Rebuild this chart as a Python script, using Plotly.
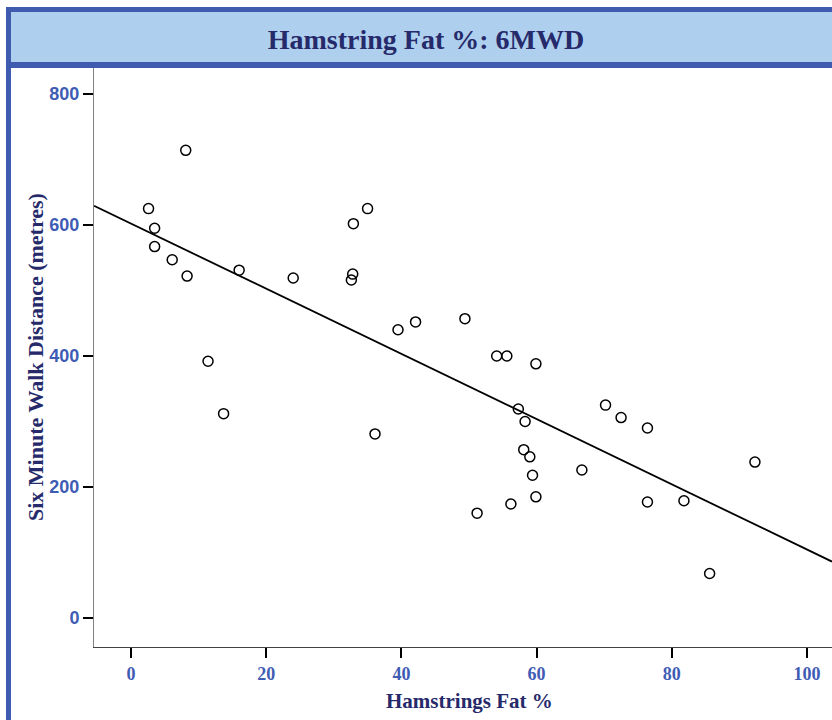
import numpy as np
import plotly.graph_objects as go

# Data
fat_pct = [8.1, 2.6, 3.5, 3.5, 6.1, 8.3, 16.0, 24.0, 11.4, 13.7,
           32.9, 35.0, 32.8, 32.6, 39.5, 42.1, 36.1,
           49.4, 54.1, 55.6, 59.9, 57.3, 58.3, 58.1, 59.0, 59.4, 59.9,
           56.2, 51.2, 66.7, 70.2, 72.5, 76.4, 76.4, 81.8, 92.3, 85.6]
walk_m = [714, 625, 595, 567, 547, 522, 531, 519, 392, 312,
          602, 625, 525, 516, 440, 452, 281,
          457, 400, 400, 388, 319, 300, 257, 246, 218, 185,
          174, 160, 226, 325, 306, 290, 177, 179, 238, 68]

x_ticks = [0, 20, 40, 60, 80, 100]
y_ticks = [0, 200, 400, 600, 800]
x_range = [-5.47, 103.7]
y_range = [-44.3, 839.7]

title_text = "Hamstring Fat %: 6MWD"
x_title = "Hamstrings Fat %"
y_title = "Six Minute Walk Distance (metres)"

W, H = 832, 720
ML, MR, MT, MB = 94, 0, 68, 73
PW, PH = W - ML - MR, H - MT - MB

def px(xp):
    return (xp - ML) / PW

def py(yp):
    return (H - MB - yp) / PH

slope, intercept = np.polyfit(fat_pct, walk_m, 1)
line_x = np.array(x_range)
line_y = intercept + slope * line_x

BORDER = "#3F5BB0"
FILL = "#AED0EE"
NAVY = "#262A6B"
TICKBLUE = "#3F5CB5"

fig = go.Figure()
fig.add_trace(go.Scatter(x=line_x, y=line_y, mode="lines",
                         line=dict(color="black", width=1.8),
                         hoverinfo="skip", showlegend=False))
fig.add_trace(go.Scatter(x=fat_pct, y=walk_m, mode="markers",
                         marker=dict(symbol="circle-open", size=10,
                                     color="black", line=dict(width=1.5)),
                         showlegend=False))

shapes = [
    dict(type="rect", xref="paper", yref="paper", x0=px(11), x1=px(W + 5),
         y0=py(62), y1=py(12), fillcolor=FILL, line=dict(width=0), layer="below"),
    dict(type="rect", xref="paper", yref="paper", x0=px(6), x1=px(W + 5),
         y0=py(12), y1=py(7), fillcolor=BORDER, line=dict(width=0)),
    dict(type="rect", xref="paper", yref="paper", x0=px(6), x1=px(W + 5),
         y0=py(68), y1=py(62), fillcolor=BORDER, line=dict(width=0)),
    dict(type="rect", xref="paper", yref="paper", x0=px(6), x1=px(11),
         y0=py(H + 5), y1=py(7), fillcolor=BORDER, line=dict(width=0)),
]

annotations = [
    dict(text=x_title, xref="paper", yref="paper", x=px(469), y=py(701),
         xanchor="center", yanchor="middle", showarrow=False,
         font=dict(family="Liberation Serif", size=21, color=NAVY, weight="bold")),
    dict(text=y_title, xref="paper", yref="paper", x=px(35), y=py(357),
         xanchor="center", yanchor="middle", showarrow=False, textangle=-90,
         font=dict(family="Liberation Serif", size=22, color=NAVY, weight="bold")),
]

fig.update_layout(
    width=W, height=H,
    margin=dict(l=ML, r=MR, t=MT, b=MB, pad=0),
    paper_bgcolor="white", plot_bgcolor="white",
    title=dict(text=title_text, x=426 / W, xanchor="center",
               y=1 - 39 / H, yanchor="middle",
               font=dict(family="Liberation Serif", size=28, color=NAVY, weight="bold")),
    shapes=shapes,
    annotations=annotations,
    xaxis=dict(range=x_range, tickvals=x_ticks, ticks="outside", ticklen=10,
               tickwidth=2, tickcolor="black", showline=True, linecolor="#444444",
               linewidth=1, showgrid=False, zeroline=False,
               tickfont=dict(family="Liberation Serif", size=18, color=TICKBLUE,
                             weight="bold")),
    yaxis=dict(range=y_range, tickvals=y_ticks, ticks="outside", ticklen=10,
               tickwidth=2, tickcolor="black", showline=True, linecolor="#808080",
               linewidth=1, showgrid=False, zeroline=False,
               tickfont=dict(family="Liberation Sans", size=18, color=TICKBLUE,
                             weight="bold")),
)

fig.write_html("out.html")
